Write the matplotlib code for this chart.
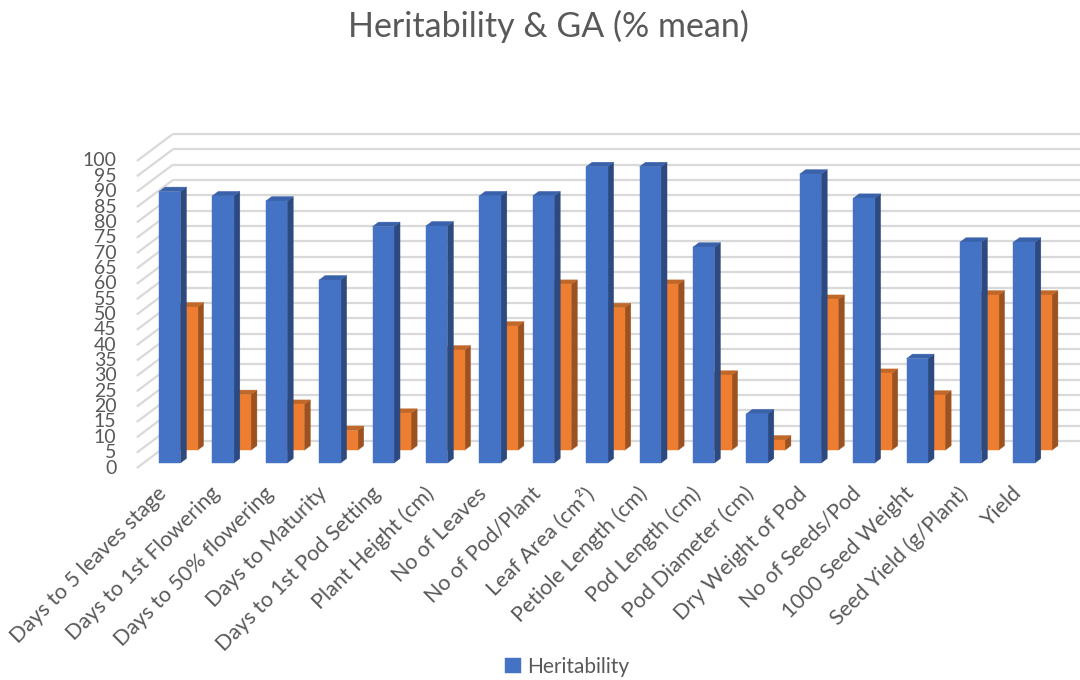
import matplotlib
matplotlib.use("Agg")
import matplotlib.pyplot as plt
from matplotlib.patches import Polygon

plt.rcParams['font.family'] = ['Lato', 'DejaVu Sans']

categories = [
    "Days to 5 leaves stage", "Days to 1st Flowering", "Days to 50% flowering",
    "Days to Maturity", "Days to 1st Pod Setting", "Plant Height (cm)",
    "No of Leaves", "No of Pod/Plant", "Leaf Area (cm²)", "Petiole Length (cm)",
    "Pod Length (cm)", "Pod Diameter (cm)", "Dry Weight of Pod", "No of Seeds/Pod",
    "1000 Seed Weight", "Seed Yield (g/Plant)", "Yield",
]
heritability = [88.4, 87.0, 85.3, 59.6, 77.0, 77.2, 87.0, 87.0, 96.5, 96.5,
                70.3, 16.0, 94.1, 86.2, 34.0, 71.9, 71.9]
genetic_advance = [46.6, 18.1, 14.9, 6.4, 12.0, 32.6, 40.4, 54.0, 46.4, 54.0,
                   24.4, 3.3, 49.1, 25.0, 17.9, 50.5, 50.5]
y_ticks = list(range(0, 101, 5))

TEXT = '#595959'
GRID = '#d9d9d9'
BLUE = ('#4472c4', '#2d4a80', '#3a62ab')      # front, side, top
ORANGE = ('#ed7d31', '#9c5220', '#c0672a')

W, H = 1080, 680
fig = plt.figure(figsize=(W / 100, H / 100), dpi=100)
ax = fig.add_axes([0, 0, 1, 1])

# scale of the drawing: one category step and one value unit, in pixels
px_per_cat = 53.4
px_per_unit = 3.07
x0_px, y0_px = 163, 468
ax.set_xlim(-x0_px / px_per_cat, (W - x0_px) / px_per_cat)
ax.set_ylim((y0_px - H) / px_per_unit, y0_px / px_per_unit)
ax.axis('off')

# oblique depth direction of the floor (front -> back wall)
DX = 36 / px_per_cat
DY = 27 / px_per_unit


def proj(x, v, d):
    return (x + d * DX, v + d * DY)


n = len(categories)
x_left, x_right = -0.49, n - 0.51

# back wall and side wall gridlines, value labels on the front edge
for v in y_ticks:
    xs, ys = zip(proj(x_left, v, 0), proj(x_left, v, 1))
    ax.plot(xs, ys, color=GRID, lw=1.6, zorder=1, solid_capstyle='butt')
    xs, ys = zip(proj(x_left, v, 1), proj(x_right, v, 1))
    ax.plot(xs, ys, color=GRID, lw=1.6, zorder=1, solid_capstyle='butt')
    tx, ty = proj(x_left, v, 0)
    ax.text(tx - 0.38, ty, str(v), ha='right', va='center', fontsize=14,
            color=TEXT)

bar_w = 21.5 / px_per_cat
bar_depth = 0.167


def columns(values, d, colors, z):
    front, side, top = colors
    xs = [i + d * DX for i in range(n)]
    cont = ax.bar(xs, values, width=bar_w, bottom=d * DY, color=front,
                  edgecolor=front, linewidth=0.3, zorder=z + 0.2)
    for i, v in enumerate(values):
        l, r = i - bar_w / 2, i + bar_w / 2
        ax.add_patch(Polygon([proj(r, 0, d), proj(r, 0, d + bar_depth),
                              proj(r, v, d + bar_depth), proj(r, v, d)],
                             closed=True, facecolor=side, edgecolor=side,
                             lw=0.3, zorder=z + 0.1))
        ax.add_patch(Polygon([proj(l, v, d), proj(r, v, d),
                              proj(r, v, d + bar_depth), proj(l, v, d + bar_depth)],
                             closed=True, facecolor=top, edgecolor=top,
                             lw=0.3, zorder=z + 0.1))
    return cont


columns(genetic_advance, 0.66, ORANGE, 2)
blue_bars = columns(heritability, 0.185, BLUE, 3)

# category labels
for i, name in enumerate(categories):
    ax.text(i - 0.12, -5.0, name, rotation=45, rotation_mode='anchor',
            ha='right', va='top', fontsize=15.5, color=TEXT)

fig.text(548 / W, 1 - 26 / H, "Heritability & GA (% mean)", ha='center',
         va='center', fontsize=24.5, color=TEXT)

fig.legend(handles=[blue_bars], labels=['Heritability'], loc='center',
           bbox_to_anchor=(567 / W, 1 - 667 / H), frameon=False,
           handlelength=0.75, handleheight=0.75, handletextpad=0.3,
           fontsize=15, labelcolor=TEXT)

fig.savefig('out.png', dpi=100)
